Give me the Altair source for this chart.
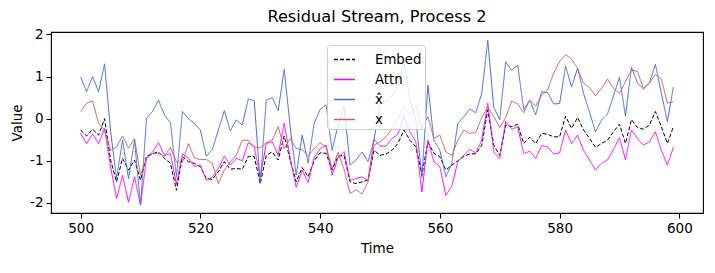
import altair as alt
import pandas as pd

t = list(range(500, 600))

embed = [-0.27, -0.41, -0.25, -0.39, 0.0, -0.98, -1.5, -0.94, -1.22, -0.98,
         -1.46, -0.89, -0.83, -0.79, -0.94, -1.06, -1.70, -0.90, -1.02, -1.06,
         -1.14, -1.42, -1.44, -1.26, -1.02, -1.20, -1.18, -1.20, -0.90, -0.90,
         -1.54, -0.87, -0.79, -0.98, -0.41, -0.98, -1.50, -1.16, -1.38, -1.00,
         -0.81, -0.82, -1.22, -0.89, -0.87, -1.50, -1.54, -1.50, -1.46, -0.75,
         -0.87, -0.84, -0.75, -0.59, -0.27, -0.51, -0.67, -1.34, -0.55, -0.82,
         -0.90, -1.22, -1.10, -1.00, -0.89, -0.84, -0.83, -0.63, 0.21, -0.63,
         -0.87, -0.15, -0.19, -0.13, -0.59, -0.44, -0.59, -0.35, -0.37, -0.43,
         -0.43, 0.06, -0.23, 0.03, -0.27, -0.47, -0.68, -0.59, -0.51, -0.31,
         -0.13, -0.59, -0.02, -0.21, -0.25, -0.15, 0.17, -0.19, -0.59, -0.19]

attn = [-0.35, -0.59, -0.36, -0.59, -0.23, -1.14, -1.90, -1.34, -1.98, -1.38,
        -2.05, -0.94, -0.79, -0.57, -0.87, -0.83, -1.56, -0.83, -0.94, -1.13,
        -1.10, -1.46, -1.38, -1.18, -0.89, -1.10, -0.94, -1.00, -0.57, -0.67,
        -1.38, -0.59, -0.55, -0.87, -0.10, -0.94, -1.63, -1.22, -1.52, -0.93,
        -0.71, -0.63, -1.34, -0.94, -0.78, -1.46, -1.42, -1.38, -1.47, -0.49,
        -0.65, -0.65, -0.47, -0.37, 0.06, -0.31, -0.55, -1.74, -0.51, -1.02,
        -1.14, -1.82, -1.60, -1.02, -0.87, -0.73, -0.81, -0.51, 0.37, -0.79,
        -0.94, -0.07, -0.25, -0.19, -0.83, -0.77, -0.94, -0.64, -0.67, -0.84,
        -0.81, -0.27, -0.59, -0.39, -0.75, -0.98, -1.22, -1.06, -0.98, -0.73,
        -0.45, -0.97, -0.27, -0.47, -0.63, -0.55, -0.31, -0.75, -1.10, -0.68]

xhat = [0.98, 0.64, 1.00, 0.64, 1.30, -0.30, -1.42, -0.51, -1.42, -0.51,
        -2.05, 0.00, 0.17, 0.44, 0.09, -0.10, -1.38, 0.17, 0.00, -0.11,
        -0.27, -0.89, -0.73, -0.27, 0.19, -0.29, -0.03, -0.15, 0.47, 0.42,
        -1.54, 0.44, 0.50, 0.19, 1.17, -0.19, -1.34, -0.39, -1.05, -0.11,
        0.22, 0.33, -0.75, -0.15, 0.30, -1.10, -0.98, -0.79, -1.02, -0.51,
        0.40, 0.40, 0.55, 0.80, 1.36, 0.45, -0.05, -1.38, 0.80, -0.51,
        -0.75, -1.38, -1.06, -0.11, 0.05, 0.23, 0.14, 0.60, 1.86, 0.27,
        -0.02, 1.35, 1.15, 1.27, 0.21, 0.44, 0.09, 0.64, 0.62, 0.35,
        0.36, 1.25, 0.75, 1.20, 0.60, 0.15, -0.31, -0.03, 0.11, 0.54,
        0.98, 0.06, 1.22, 0.85, 0.70, 0.85, 1.29, 0.60, -0.07, 0.75]

x = [0.17, 0.37, 0.42, -0.11, -0.27, -0.75, -0.67, -0.41, -0.70, -0.47,
     -1.34, -0.94, -0.83, -0.83, -0.89, -0.68, -1.02, -1.04, -0.59, -0.93,
     -0.97, -0.97, -1.06, -1.54, -1.22, -1.02, -0.87, -0.51, -0.51, -0.67,
     -0.69, -0.57, -0.51, -0.19, -0.71, -0.47, -0.71, -0.73, -0.89, -0.71,
     -0.57, -0.67, -1.18, -0.80, -1.20, -1.78, -1.68, -1.79, -1.50, -0.63,
     -0.55, -0.43, -0.25, 0.00, 0.29, 0.09, 0.31, -0.23, 0.05, -0.47,
     -0.39, -0.79, -0.87, -0.51, -0.27, -0.35, -0.33, 0.03, 0.27, 0.05,
     -0.21, 0.03, 0.42, 0.35, 0.14, 0.44, 0.30, 0.56, 0.68, 1.08,
     1.36, 1.52, 1.41, 1.20, 0.84, 0.74, 0.54, 0.72, 0.94, 0.72,
     0.60, 0.88, 1.16, 1.12, 0.72, 0.85, 1.05, 0.94, 0.37, 0.40]

series_names = ["Embed", "Attn", "x\u0302", "x"]
colors = ["#000000", "#ff00ff", "#4169e1", "#cd5c5c"]
dashes = [[4, 2], [1, 0], [1, 0], [1, 0]]
x_ticks = [500, 520, 540, 560, 580, 600]
y_ticks = [-2, -1, 0, 1, 2]

rows = []
for name, vals in zip(series_names, [embed, attn, xhat, x]):
    for ti, v in zip(t, vals):
        rows.append({"Time": ti, "Value": v, "series": name})
df = pd.DataFrame(rows)

FONT = "DejaVu Sans"

legend = alt.Legend(
    title=None, orient="none", legendX=276, legendY=13,
    symbolType="stroke", symbolSize=441, symbolStrokeWidth=1.3, symbolOffset=3,
    labelFontSize=13.3, labelFont=FONT, labelColor="black", labelOffset=19,
    fillColor="rgba(255,255,255,0.8)", strokeColor="#cccccc", cornerRadius=3,
    padding=3, rowPadding=2,
)

chart = alt.Chart(df).mark_line(strokeWidth=1, clip=True).encode(
    x=alt.X("Time:Q",
            scale=alt.Scale(domain=[495.05, 603.95], nice=False, zero=False),
            axis=alt.Axis(values=x_ticks, title="Time", format="d")),
    y=alt.Y("Value:Q",
            scale=alt.Scale(domain=[-2.238, 2.057], nice=False, zero=False),
            axis=alt.Axis(values=y_ticks, title="Value",
                          labelExpr="datum.value < 0 ? '-' + abs(datum.value) : '' + datum.value")),
    color=alt.Color("series:N", scale=alt.Scale(domain=series_names, range=colors),
                    legend=legend),
    strokeDash=alt.StrokeDash("series:N", scale=alt.Scale(domain=series_names, range=dashes),
                              legend=legend),
).properties(
    width=652, height=181,
    autosize=alt.AutoSizeParams(type="none"),
    padding={"left": 43, "top": 24, "right": 4, "bottom": 50},
    title=alt.Title("Residual Stream, Process 2", font=FONT, fontSize=16.2,
                    fontWeight="normal", color="black", anchor="middle", offset=2),
).configure_view(
    stroke="black", strokeWidth=1.1
).configure_axis(
    grid=False, domain=False, tickColor="black", tickSize=5, tickWidth=1.1,
    labelFont=FONT, labelFontSize=13.5, labelColor="black", labelPadding=3,
    titleFont=FONT, titleFontSize=13.5, titleFontWeight="normal", titleColor="black",
).configure_axisX(titlePadding=7).configure_axisY(titlePadding=5)

chart.save("out.html", embed_options={"renderer": "svg", "actions": False})
